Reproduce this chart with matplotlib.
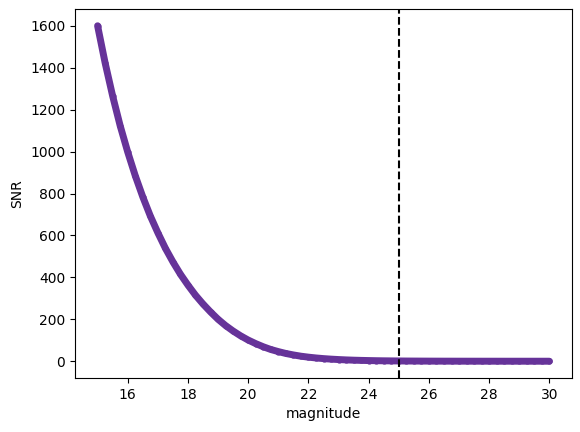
import numpy as np
import matplotlib
matplotlib.use('Agg')
import matplotlib.pyplot as plt

# magnitude grid (0.25 mag steps)
mag=[15.0,15.25,15.5,15.75,16.0,16.25,16.5,16.75,17.0,17.25,17.5,17.75,
	18.0,18.25,18.5,18.75,19.0,19.25,19.5,19.75,20.0,20.25,20.5,20.75,
	21.0,21.25,21.5,21.75,22.0,22.25,22.5,22.75,23.0,23.25,23.5,23.75,
	24.0,24.25,24.5,24.75,25.0,25.25,25.5,25.75,26.0,26.25,26.5,26.75,
	27.0,27.25,27.5,27.75,28.0,28.25,28.5,28.75,29.0,29.25,29.5,29.75,30.0]
snr=[1600,1423,1265,1123,998,885,784,693,613,539,474,415,
	363,315,273,235,200,170,144,121,101,84,69,56,
	46,37,30,24,19.4,15.6,12.5,10,8,6.3,5,4,
	3.2,2.5,2,1.6,1.3,1,0.8,0.64,0.51,0.4,0.32,0.26,
	0.2,0.16,0.13,0.1,0.08,0.064,0.05,0.04,0.032,0.026,0.02,0.016,0.013]
cut=25

fig=plt.figure(figsize=(5.8,4.32),dpi=100)
ax=fig.add_axes([75/580,1-378/432,497/580,369/432])
ax.plot(mag,snr,'.-',color='rebeccapurple',lw=5,ms=7,solid_capstyle='round',solid_joinstyle='round')
ax.axvline(cut,color='k',ls='--')
ax.set_xlabel('magnitude')
ax.set_ylabel('SNR')
ax.set_ylim(-80,1680)
fig.savefig('out.png',dpi=100)
